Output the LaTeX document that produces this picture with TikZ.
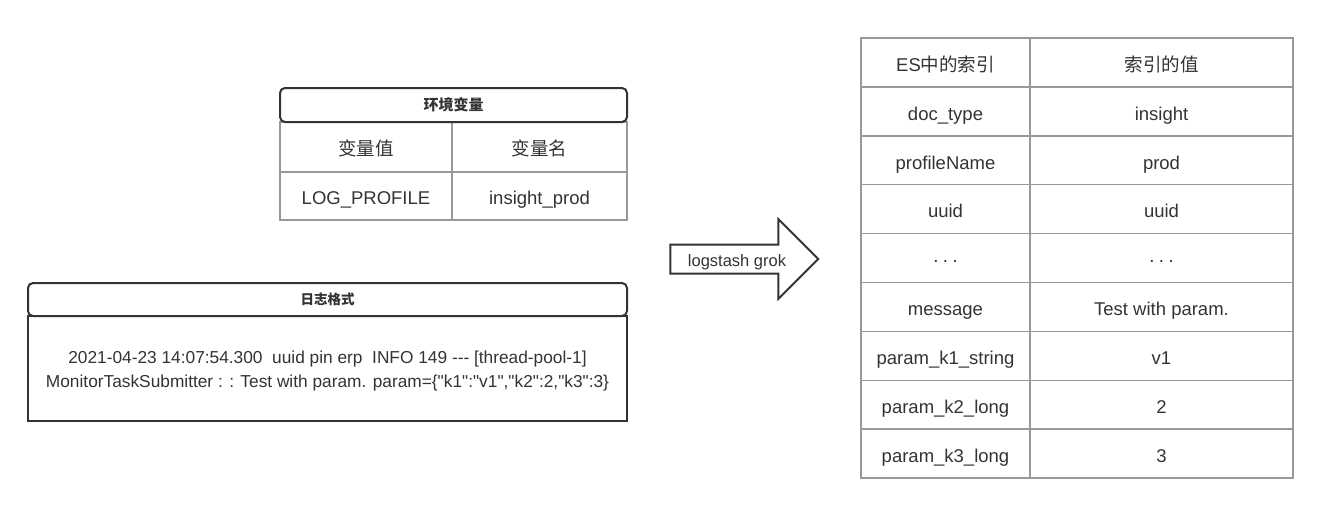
\documentclass[tikz,border=0pt]{standalone}
\usepackage{fontspec}
\setmainfont{Liberation Sans}[Ligatures=TeXOff]
\newfontfamily\cjk{Noto Sans CJK SC}
\usetikzlibrary{positioning,shapes.arrows}

\definecolor{linegray}{HTML}{999999}
\definecolor{ink}{HTML}{333333}

\newcommand\middots{·\hspace{3.5pt}·\hspace{3.5pt}·}

\begin{document}
\begin{tikzpicture}[x=1pt, y=-1pt,
    cell/.style={draw=linegray, line width=1.5pt, inner sep=0pt, outer sep=0pt,
      text=ink, text height=17.5pt, text depth=0pt, font=\fontsize{18.5}{22}\selectfont},
    titlebox/.style={draw=ink, line width=2pt, rounded corners=5pt, fill=white,
      inner sep=0pt, outer sep=0pt, text=ink},
    logbody/.style={draw=ink, line width=2pt, inner sep=0pt, outer sep=0pt},
    logmsg/.style={text=ink, align=center, font=\fontsize{17.3}{24}\selectfont},
    grokarrow/.style={shape=single arrow, draw=ink, line width=2pt, fill=white,
      single arrow head extend=25.5pt, minimum height=148pt, inner xsep=4pt,
      inner ysep=6pt, text height=14.5pt, text depth=0.5pt, text=ink,
      font=\fontsize{16.5}{18}\selectfont}]

  \useasboundingbox (0,0) rectangle (1344,506);

  \node (envk) [cell, minimum width=172pt, minimum height=50pt] at (366,147) {\cjk 变量值};
  \node (envv) [cell, minimum width=175pt, minimum height=50pt, right=0pt of envk] {\cjk 变量名};
  \node (profk) [cell, minimum width=172pt, minimum height=48pt, below=0pt of envk] {LOG\_PROFILE};
  \node (profv) [cell, minimum width=175pt, minimum height=48pt, below=0pt of envv] {insight\_prod};
  \node (envhead) [titlebox, minimum width=347pt, minimum height=34pt, font=\cjk\bfseries\fontsize{15}{18}\selectfont] at (453.5,105) {环境变量};

  \node (logbox) [logbody, minimum width=599pt, minimum height=105pt] at (327.5,368.5) {};
  \node (logtext) [logmsg, yshift=-3pt] at (logbox.center)
    {2021-04-23 14:07:54.300 \ uuid pin erp \ INFO 149 --- [thread-pool-1]\\
     MonitorTaskSubmitter : : Test with param. param=\{"k1":"v1","k2":2,"k3":3\}};
  \node (loghead) [titlebox, minimum width=599pt, minimum height=33pt, above=0pt of logbox, font=\cjk\bfseries\fontsize{13.5}{16}\selectfont] {日志格式};

  \node (grok) [grokarrow] at (737,259) {logstash grok};

  \foreach \k/\v [count=\i from 0] in {{ES{\cjk 中的索引}}/{\cjk 索引的值}, doc\_type/insight,
      profileName/prod, uuid/uuid, \middots/\middots, message/Test with param.,
      param\_k1\_string/v1, param\_k2\_long/2, param\_k3\_long/3} {
    \node (key\i) [cell, minimum width=169pt, minimum height=48.9pt] at (945.5,{38+48.9*(\i+0.5)}) {\k};
    \node (val\i) [cell, minimum width=263pt, minimum height=48.9pt, right=0pt of key\i] {\v};
  }

\end{tikzpicture}
\end{document}
